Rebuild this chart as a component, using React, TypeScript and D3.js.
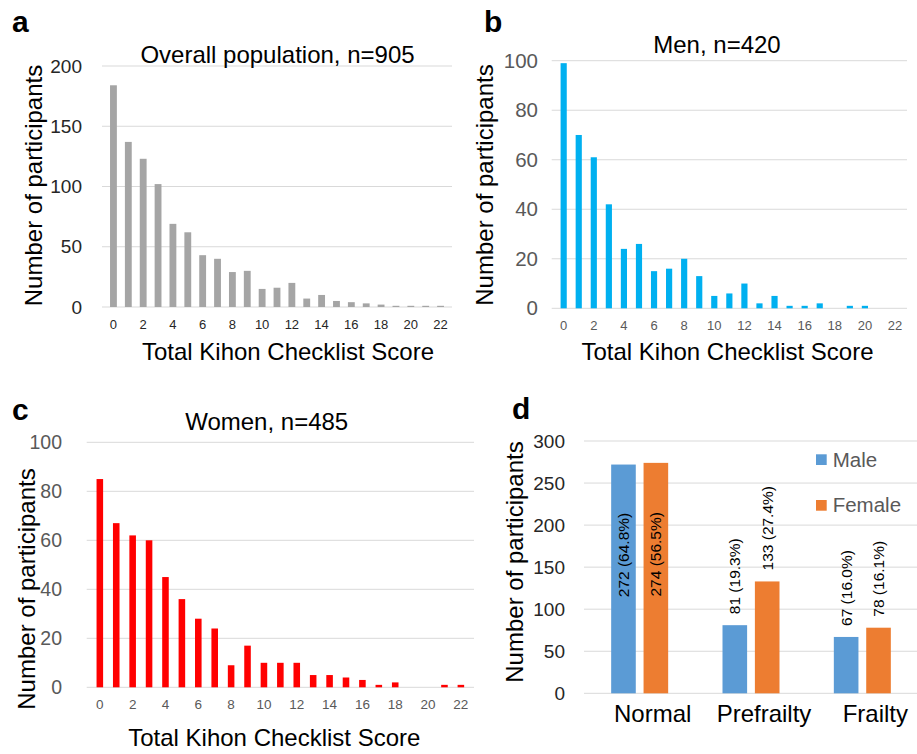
import * as d3 from 'd3';

// Kihon Checklist total score, 0..22
const scores = [0, 1, 2, 3, 4, 5, 6, 7, 8, 9, 10, 11, 12, 13, 14, 15, 16, 17, 18, 19, 20, 21, 22];
const overallCounts = [184, 137, 123, 102, 69, 62, 43, 40, 29, 30, 15, 16, 20, 7, 10, 5, 4, 3, 2, 1, 1, 1, 1];
const menCounts = [99, 70, 61, 42, 24, 26, 15, 16, 20, 13, 5, 6, 10, 2, 5, 1, 1, 2, 0, 1, 1, 0, 0];
const womenCounts = [85, 67, 62, 60, 45, 36, 28, 24, 9, 17, 10, 10, 10, 5, 5, 4, 3, 1, 2, 0, 0, 1, 1];

// frailty status by sex
const frailtyGroups = ['Normal', 'Prefrailty', 'Frailty'];
const sexes = ['Male', 'Female'];
const maleCounts = [272, 81, 67];
const femaleCounts = [274, 133, 78];
const malePercents = ['64.8', '19.3', '16.0'];
const femalePercents = ['56.5', '27.4', '16.1'];

const FONT = "'Liberation Sans', Arial, Helvetica, sans-serif";

type HistProps = {
  counts: number[];
  color: string;
  left: number; right: number; top: number; bottom: number;
  yMax: number; yStep: number;
  tickColor: string; yTickSize: number; yTickRight: number;
  xTickSize: number; xTickY: number;
  padding: number;
  title: string; titleX: number; titleY: number;
  xTitleX: number; xTitleY: number;
  yLabelX: number; yLabelY: number;
  letter: string; letterX: number; letterY: number;
};

function Histogram(p: HistProps) {
  const x = d3.scaleBand<number>().domain(scores).range([p.left, p.right]).padding(p.padding);
  const y = d3.scaleLinear().domain([0, p.yMax]).range([p.bottom, p.top]);
  const yTicks = d3.range(0, p.yMax + 1, p.yStep);
  const xTicks = scores.filter(s => s % 2 === 0);

  return (
    <g>
      {yTicks.map(t => (
        <line key={'g' + t} x1={p.left} x2={p.right} y1={y(t)} y2={y(t)} stroke="#d9d9d9" strokeWidth={1} />
      ))}
      {scores.map((s, i) => (
        <rect key={s} x={x(s)} y={y(p.counts[i])} width={x.bandwidth()} height={p.bottom - y(p.counts[i])} fill={p.color} />
      ))}
      {yTicks.map(t => (
        <text key={'t' + t} x={p.yTickRight} y={y(t)} dy="0.35em" textAnchor="end" fontSize={p.yTickSize} fill={p.tickColor}>{t}</text>
      ))}
      {xTicks.map(s => (
        <text key={'x' + s} x={x(s)! + x.bandwidth() / 2} y={p.xTickY} dy="0.35em" textAnchor="middle" fontSize={p.xTickSize} fill={p.tickColor}>{s}</text>
      ))}
      <text x={p.titleX} y={p.titleY} textAnchor="middle" fontSize={24} fill="#000">{p.title}</text>
      <text x={p.xTitleX} y={p.xTitleY} textAnchor="middle" fontSize={24} fill="#000">Total Kihon Checklist Score</text>
      <text transform={`translate(${p.yLabelX},${p.yLabelY}) rotate(-90)`} textAnchor="middle" fontSize={24} fill="#000">Number of participants</text>
      <text x={p.letterX} y={p.letterY} fontSize={30} fontWeight="bold" fill="#000">{p.letter}</text>
    </g>
  );
}

function FrailtyChart() {
  const left = 584, right = 918, top = 441, bottom = 693.3;
  const x0 = d3.scaleBand().domain(frailtyGroups).range([left, right]);
  const bw = x0.bandwidth();
  const x1 = d3.scaleBand().domain(sexes).range([(bw - 57) / 2, (bw + 57) / 2]).paddingInner(0.24);
  const y = d3.scaleLinear().domain([0, 300]).range([bottom, top]);
  const yTicks = d3.range(0, 301, 50);
  const colors: Record<string, string> = { Male: '#5b9bd5', Female: '#ed7d31' };
  const series = [
    { sex: 'Male', counts: maleCounts, pct: malePercents },
    { sex: 'Female', counts: femaleCounts, pct: femalePercents },
  ];

  return (
    <g>
      {yTicks.map(t => (
        <line key={'g' + t} x1={left} x2={right} y1={y(t)} y2={y(t)} stroke="#d9d9d9" strokeWidth={1} />
      ))}
      {yTicks.map(t => (
        <text key={'t' + t} x={565} y={y(t)} dy="0.35em" textAnchor="end" fontSize={19} fill="#262626">{t}</text>
      ))}
      {series.map(s =>
        frailtyGroups.map((g, i) => {
          const v = s.counts[i];
          const bx = x0(g)! + x1(s.sex)!;
          const cx = bx + x1.bandwidth() / 2;
          const inside = g === 'Normal';
          const ly = inside ? y(v * 0.42) : y(v) - 11;
          return (
            <g key={s.sex + g}>
              <rect x={bx} y={y(v)} width={x1.bandwidth()} height={bottom - y(v)} fill={colors[s.sex]} />
              <text transform={`translate(${cx},${ly}) rotate(-90)`} dominantBaseline="central" fontSize={15.5} fill="#000">
                {`${v} (${s.pct[i]}%)`}
              </text>
            </g>
          );
        })
      )}
      {frailtyGroups.map(g => (
        <text key={g} x={x0(g)! + bw / 2 + 13} y={722} textAnchor="middle" fontSize={24} fill="#000">{g}</text>
      ))}
      {sexes.map((s, i) => (
        <g key={s}>
          <rect x={816} y={454.3 + i * 45.7} width={10.7} height={10.7} fill={colors[s]} />
          <text x={832.7} y={466.7 + i * 45} fontSize={20.5} fill="#595959">{s}</text>
        </g>
      ))}
      <text transform="translate(523,562) rotate(-90)" textAnchor="middle" fontSize={24} fill="#000">Number of participants</text>
      <text x={512} y={419} fontSize={30} fontWeight="bold" fill="#000">d</text>
    </g>
  );
}

export default function App() {
  return (
    <svg width={917} height={754} style={{ position: 'absolute', left: 0, top: 0, background: '#fff' }} fontFamily={FONT}>
      <Histogram
        counts={overallCounts} color="#a5a5a5"
        left={102} right={452} top={66} bottom={307} yMax={200} yStep={50}
        tickColor="#262626" yTickSize={19} yTickRight={82} xTickSize={13} xTickY={324} padding={0.54}
        title="Overall population, n=905" titleX={277.5} titleY={63}
        xTitleX={288} xTitleY={360} yLabelX={42} yLabelY={185.5}
        letter="a" letterX={12} letterY={32}
      />
      <Histogram
        counts={menCounts} color="#00b0f0"
        left={551.7} right={907} top={60.7} bottom={308.3} yMax={100} yStep={20}
        tickColor="#595959" yTickSize={20.5} yTickRight={538} xTickSize={13} xTickY={325} padding={0.59}
        title="Men, n=420" titleX={717} titleY={53.3}
        xTitleX={727.5} xTitleY={360} yLabelX={493} yLabelY={185}
        letter="b" letterX={484} letterY={32}
      />
      <Histogram
        counts={womenCounts} color="#ff0000"
        left={86.7} right={474} top={442.3} bottom={687.3} yMax={100} yStep={20}
        tickColor="#595959" yTickSize={19.5} yTickRight={62} xTickSize={13.5} xTickY={704} padding={0.6}
        title="Women, n=485" titleX={266.7} titleY={430}
        xTitleX={274.3} xTitleY={746} yLabelX={35} yLabelY={589}
        letter="c" letterX={12} letterY={420}
      />
      <FrailtyChart />
    </svg>
  );
}
